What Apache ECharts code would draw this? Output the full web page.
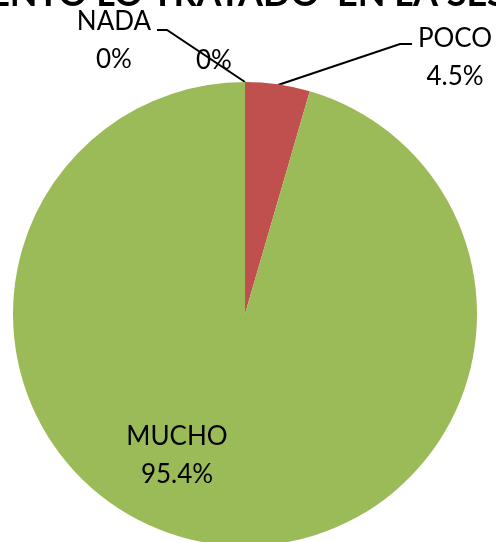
<!DOCTYPE html>
<html>
<head>
<meta charset="utf-8">
<script src="https://cdn.jsdelivr.net/npm/echarts@6/dist/echarts.min.js"></script>
<style>
  html, body { margin: 0; padding: 0; background: #fff; }
  #chart { width: 496px; height: 542px; }
</style>
</head>
<body>
<div id="chart"></div>
<script>
// datos del grafico
const categorias = ['POCO', 'MUCHO', 'NADA', ''];
const valores = [4.5, 95.4, 0, 0];
const colores = ['#C0504D', '#9BBB59', '#4F81BD', '#8064A2'];
const titulo = 'ENTO LO TRATADO  EN LA SES';

// donde va cada etiqueta (x, y del centro del texto) y su linea guia
const posEtiquetas = [
  { x: 455, y: 58, linea: [[412, 44], [400, 44], [278, 85]] },
  { x: 177, y: 456, linea: null },
  { x: 114, y: 41, linea: [[157, 30], [167, 30], [245, 82]] },
  { x: 214, y: 61, linea: null }
];

let myChart = echarts.init(document.getElementById('chart'));

let pieData = categorias.map((c, i) => ({
  name: c,
  value: valores[i],
  itemStyle: { color: colores[i] },
  labelLine: { show: posEtiquetas[i].linea !== null }
}));

let option = {
  animation: false,
  title: {
    text: titulo,
    left: 'center',
    top: -29,
    textStyle: {
      fontFamily: 'Lato',
      fontWeight: 'bold',
      fontSize: 36,
      color: '#000'
    }
  },
  series: [
    {
      type: 'pie',
      center: [245, 314],
      radius: [0, 232],
      startAngle: 90,
      clockwise: true,
      avoidLabelOverlap: false,
      silent: true,
      itemStyle: { borderWidth: 0 },
      label: {
        show: true,
        position: 'outside',
        formatter: p => (p.name ? p.name + '\n' : '') + p.value + '%',
        fontFamily: 'Lato',
        fontSize: 26,
        lineHeight: 38,
        color: '#000',
        align: 'center'
      },
      labelLine: {
        show: true,
        lineStyle: { color: '#000', width: 2 }
      },
      labelLayout: function (params) {
        let pos = posEtiquetas[params.dataIndex];
        let res = { x: pos.x, y: pos.y, align: 'center', verticalAlign: 'middle' };
        if (pos.linea) res.labelLinePoints = pos.linea;
        return res;
      },
      data: pieData
    }
  ]
};

myChart.setOption(option);
</script>
</body>
</html>
